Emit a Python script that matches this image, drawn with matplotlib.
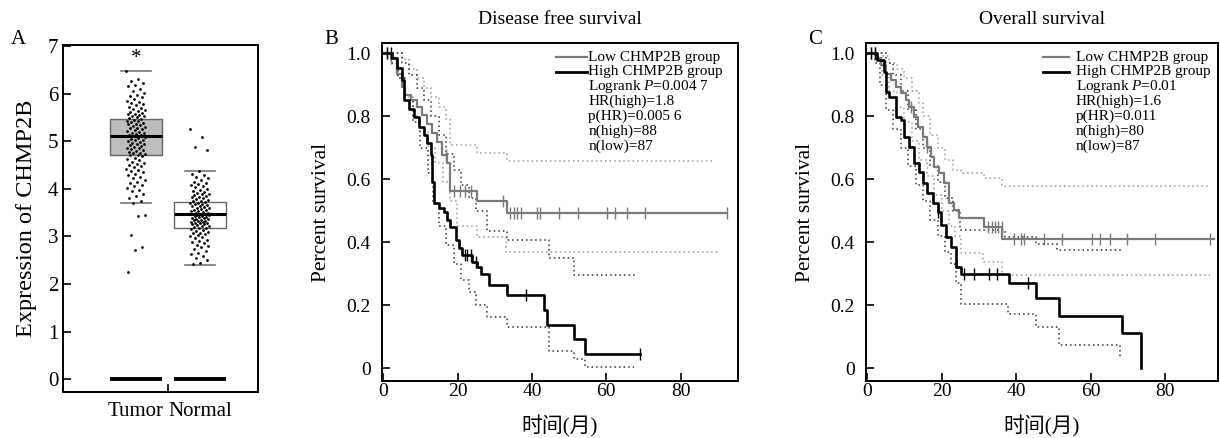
import numpy as np
import matplotlib
matplotlib.use("Agg")
import matplotlib.pyplot as plt
from matplotlib.ticker import FuncFormatter

plt.rcParams['font.family'] = ['Liberation Serif', 'Noto Sans CJK SC']
plt.rcParams['mathtext.fontset'] = 'custom'
plt.rcParams['mathtext.rm'] = 'Liberation Serif'
plt.rcParams['mathtext.it'] = 'Liberation Serif:italic'

# ---------------- panel A: expression box plot ----------------
groups = ['Tumor', 'Normal']
tumor_expr = [6.48, 6.31, 6.27, 6.22, 6.18, 6.15, 6.10, 6.05, 6.02, 5.98, 5.95, 5.92, 5.88, 5.85,
              5.82, 5.80, 5.78, 5.75, 5.72, 5.70, 5.68, 5.66, 5.64, 5.62, 5.60, 5.58, 5.56, 5.55,
              5.53, 5.52, 5.50, 5.48, 5.46, 5.45, 5.43, 5.42, 5.40, 5.38, 5.37, 5.35, 5.33, 5.32,
              5.30, 5.28, 5.27, 5.25, 5.23, 5.22, 5.20, 5.18, 5.17, 5.15, 5.13, 5.12, 5.10, 5.08,
              5.07, 5.05, 5.03, 5.02, 5.00, 4.98, 4.96, 4.95, 4.93, 4.91, 4.90, 4.88, 4.86, 4.85,
              4.83, 4.81, 4.80, 4.78, 4.76, 4.75, 4.73, 4.71, 4.70, 4.68, 4.65, 4.62, 4.60, 4.57,
              4.55, 4.52, 4.50, 4.47, 4.45, 4.42, 4.40, 4.37, 4.35, 4.32, 4.28, 4.25, 4.22, 4.18,
              4.15, 4.12, 4.08, 4.05, 4.02, 3.98, 3.95, 3.90, 3.85, 3.80, 3.75, 3.70, 3.45, 3.42,
              3.02, 2.78, 2.72, 2.25]
normal_expr = [5.25, 5.08, 4.88, 4.82, 4.38, 4.32, 4.28, 4.25, 4.22, 4.18, 4.15, 4.12, 4.10, 4.08,
               4.05, 4.03, 4.00, 3.98, 3.96, 3.94, 3.92, 3.90, 3.88, 3.86, 3.85, 3.83, 3.82, 3.80,
               3.78, 3.77, 3.75, 3.74, 3.72, 3.71, 3.70, 3.68, 3.67, 3.66, 3.64, 3.63, 3.62, 3.60,
               3.59, 3.58, 3.56, 3.55, 3.54, 3.53, 3.52, 3.50, 3.49, 3.48, 3.47, 3.46, 3.45, 3.44,
               3.43, 3.42, 3.41, 3.40, 3.39, 3.38, 3.37, 3.36, 3.35, 3.34, 3.33, 3.32, 3.31, 3.30,
               3.29, 3.28, 3.27, 3.26, 3.25, 3.24, 3.22, 3.21, 3.20, 3.18, 3.17, 3.15, 3.13, 3.12,
               3.10, 3.08, 3.06, 3.04, 3.02, 3.00, 2.98, 2.96, 2.93, 2.90, 2.88, 2.85, 2.82, 2.80,
               2.77, 2.74, 2.70, 2.66, 2.62, 2.58, 2.55, 2.50, 2.45, 2.42]
box_q1 = [4.70, 3.18]
box_med = [5.10, 3.46]
box_q3 = [5.47, 3.72]
whisk_lo = [3.70, 2.40]
whisk_hi = [6.48, 4.38]

# ---------------- panel B: disease free survival ----------------
b_low_t = [0, 2.0, 3.8, 5.2, 6.0, 7.4, 9.2, 10.5, 11.9, 13.2, 14.5, 15.9, 17.2, 18.1, 25.3, 33.2, 92.4]
b_low_s = [1.0, 0.983, 0.935, 0.893, 0.867, 0.851, 0.829, 0.803, 0.776, 0.745, 0.718, 0.676, 0.650,
           0.562, 0.530, 0.493, 0.493]
b_low_cens = [1.0, 2.0, 16.8, 19.0, 20.8, 22.1, 23.5, 32.3, 34.2, 35.1, 36.0, 37.1, 41.4, 42.3, 47.2,
              52.3, 60.3, 62.4, 65.5, 70.5, 92.4]
b_high_t = [0, 2.5, 3.8, 5.2, 5.6, 6.9, 8.3, 9.6, 11.0, 11.9, 12.8, 13.2, 13.6, 15.0, 16.3, 17.2, 18.1,
            19.5, 20.4, 21.3, 23.9, 25.3, 26.2, 28.4, 33.2, 43.2, 44.1, 51.2, 54.4, 69.0]
b_high_s = [1.0, 0.983, 0.952, 0.914, 0.851, 0.824, 0.798, 0.766, 0.740, 0.713, 0.676, 0.591, 0.523,
            0.507, 0.496, 0.470, 0.449, 0.406, 0.380, 0.359, 0.338, 0.322, 0.300, 0.263, 0.232, 0.184,
            0.136, 0.091, 0.044, 0.044]
b_high_cens = [1.0, 2.0, 21.9, 22.5, 23.5, 25.1, 38.3, 69.0]
b_low_hi_t = [0, 3, 5, 7, 9, 11, 13, 15, 17, 18.1, 25.3, 33.2, 88.8]
b_low_hi_s = [1.0, 1.0, 0.98, 0.95, 0.92, 0.89, 0.86, 0.83, 0.79, 0.708, 0.683, 0.658, 0.658]
b_low_lo_t = [0, 2, 4, 6, 8, 10, 12, 14, 16, 18, 19.9, 25.3, 33.0, 90.6]
b_low_lo_s = [1.0, 0.97, 0.92, 0.86, 0.80, 0.75, 0.70, 0.65, 0.59, 0.53, 0.451, 0.415, 0.369, 0.369]
b_high_hi_t = [0, 3, 5, 7, 9, 11, 13, 15, 17, 19, 21, 23, 25, 28, 33.2, 44.7, 51.2, 68.3]
b_high_hi_s = [1.0, 1.0, 0.97, 0.93, 0.89, 0.85, 0.80, 0.74, 0.68, 0.63, 0.58, 0.54, 0.50, 0.436,
               0.406, 0.349, 0.295, 0.295]
b_high_lo_t = [0, 2, 4, 6, 8, 10, 12, 13.5, 15, 17, 19, 21, 23, 25, 28, 33.2, 44.7, 51.2, 54.4, 67.4]
b_high_lo_s = [1.0, 0.97, 0.92, 0.85, 0.78, 0.70, 0.62, 0.52, 0.45, 0.39, 0.33, 0.28, 0.24, 0.20,
               0.161, 0.131, 0.055, 0.030, 0.004, 0.004]
b_stats = ['Logrank $P$=0.004 7', 'HR(high)=1.8', 'p(HR)=0.005 6', 'n(high)=88', 'n(low)=87']

# ---------------- panel C: overall survival ----------------
c_low_t = [0, 2.4, 3.75, 5.1, 6.4, 7.8, 9.1, 10.4, 11.3, 12.7, 13.6, 14.9, 16.2, 17.1, 18.0, 19.4,
           20.7, 22.0, 23.4, 24.7, 31.4, 36.3, 93.0]
c_low_s = [1.0, 0.983, 0.962, 0.935, 0.914, 0.893, 0.872, 0.851, 0.829, 0.798, 0.766, 0.734, 0.703,
           0.671, 0.639, 0.618, 0.586, 0.523, 0.501, 0.475, 0.449, 0.410, 0.410]
c_low_cens = [1.0, 2.0, 11.8, 16.2, 32.5, 33.4, 34.3, 35.2, 36.1, 39.3, 41.4, 42.1, 47.5, 52.4, 60.4,
              62.6, 65.1, 69.9, 77.4, 92.1]
c_high_t = [0, 2.7, 4.6, 5.1, 6.0, 7.8, 9.1, 10.0, 11.3, 12.7, 14.0, 14.9, 16.2, 17.6, 18.9, 19.8,
            21.1, 22.5, 23.8, 25.2, 38.1, 45.3, 51.5, 68.3, 73.4]
c_high_s = [1.0, 0.977, 0.941, 0.877, 0.861, 0.798, 0.787, 0.734, 0.703, 0.650, 0.623, 0.586, 0.555,
            0.523, 0.496, 0.454, 0.417, 0.385, 0.322, 0.300, 0.269, 0.223, 0.166, 0.110, 0.0]
c_high_cens = [1.0, 2.0, 19.1, 26.1, 28.7, 32.7, 35.0, 43.2]
c_low_hi_t = [0, 2, 4, 6, 8, 10, 12, 14, 15, 17, 19, 21, 23, 25.2, 31.4, 36.3, 92.1]
c_low_hi_s = [1.0, 1.0, 0.99, 0.97, 0.95, 0.92, 0.88, 0.84, 0.80, 0.74, 0.70, 0.66, 0.63, 0.618,
              0.602, 0.579, 0.579]
c_low_lo_t = [0, 2, 4, 6, 8, 10, 12, 14, 16, 18, 20, 22, 23.5, 25.3, 31.1, 36.3, 92.4]
c_low_lo_s = [1.0, 0.98, 0.93, 0.88, 0.83, 0.78, 0.72, 0.66, 0.61, 0.55, 0.50, 0.45, 0.42, 0.364,
              0.337, 0.295, 0.295]
c_high_hi_t = [0, 3, 5, 7, 9, 11, 13, 15, 17, 19, 21, 23, 25, 37, 45.3, 51.0, 68.3]
c_high_hi_s = [1.0, 1.0, 0.97, 0.93, 0.88, 0.82, 0.76, 0.70, 0.64, 0.59, 0.54, 0.50, 0.438, 0.417,
               0.394, 0.375, 0.375]
c_high_lo_t = [0, 2, 3.5, 5, 7, 9, 11, 13, 15, 17, 19, 21, 22.5, 23.8, 25.2, 37.7, 45.3, 51.5, 68.0]
c_high_lo_s = [1.0, 0.97, 0.90, 0.82, 0.76, 0.70, 0.64, 0.58, 0.53, 0.47, 0.42, 0.37, 0.33, 0.27,
               0.205, 0.173, 0.131, 0.073, 0.036]
c_stats = ['Logrank $P$=0.01', 'HR(high)=1.6', 'p(HR)=0.011', 'n(high)=80', 'n(low)=87']

LOW_COL = '#7a7a7a'
HIGH_COL = '#000000'


def step_value(t, s, x):
    idx = np.searchsorted(t, x, side='right') - 1
    return np.asarray(s)[np.clip(idx, 0, len(s) - 1)]


def km_panel(ax, low, high, low_ci, high_ci, low_cens, high_cens, xmax):
    for (t, s) in low_ci:
        ax.step(t, s, where='post', color='#9a9a9a', lw=1.1, ls=(0, (1, 2)))
    for (t, s) in high_ci:
        ax.step(t, s, where='post', color='#333333', lw=1.1, ls=(0, (1, 2)))
    ax.step(low[0], low[1], where='post', color=LOW_COL, lw=1.6)
    ax.step(high[0], high[1], where='post', color=HIGH_COL, lw=1.9)
    ax.plot(low_cens, step_value(low[0], low[1], low_cens), ls='none', marker='|',
            ms=9, mew=1.0, color=LOW_COL)
    ax.plot(high_cens, step_value(high[0], high[1], high_cens), ls='none', marker='|',
            ms=9, mew=1.0, color=HIGH_COL)

    ax.set_xlim(-0.3, xmax)
    ax.set_ylim(-0.041, 1.032)
    ax.set_xticks([0, 20, 40, 60, 80])
    ax.set_yticks([0, 0.2, 0.4, 0.6, 0.8, 1.0])
    ax.yaxis.set_major_formatter(FuncFormatter(lambda v, p: '0' if v == 0 else '%.1f' % v))
    ax.tick_params(direction='in', length=6, width=1.2, labelsize=14)
    ax.tick_params(axis='y', pad=8)
    ax.tick_params(axis='x', pad=1.5)
    for sp in ax.spines.values():
        sp.set_linewidth(1.4)
    ax.set_xlabel('时间(月)', fontsize=15, labelpad=11)
    ax.set_ylabel('Percent survival', fontsize=15.5, labelpad=11)
    return ax


fig = plt.figure(figsize=(12.2, 4.38), dpi=100)

# ---- A ----
axA = fig.add_axes([63 / 1220, 46 / 438, 195 / 1220, 347 / 438])
pos = np.arange(len(groups))
stats = []
for i in range(len(groups)):
    stats.append(dict(med=box_med[i], q1=box_q1[i], q3=box_q3[i],
                      whislo=whisk_lo[i], whishi=whisk_hi[i], fliers=[]))
bp = axA.bxp(stats, positions=pos, widths=0.81, patch_artist=True, capwidths=0.47,
             medianprops=dict(color='black', lw=2.2),
             whiskerprops=dict(lw=0),
             capprops=dict(color='#777777', lw=1.2),
             boxprops=dict(edgecolor='#666666', lw=1.0))
bp['boxes'][0].set_facecolor('#bdbdbd')
bp['boxes'][1].set_facecolor('white')
for i, vals in enumerate([tumor_expr, normal_expr]):
    n = len(vals)
    jit = ((np.arange(n) * 0.6180339) % 1.0 - 0.5) * 0.3
    axA.scatter(pos[i] + jit, vals, s=4, color='black', zorder=3, linewidths=0)
    axA.hlines(0, pos[i] - 0.405, pos[i] + 0.405, color='black', lw=2.8, zorder=3)
axA.text(pos[0], whisk_hi[0] + 0.25, '*', ha='center', va='center', fontsize=15)
axA.set_xlim(-1.14, 1.91)
axA.set_ylim(-0.27, 7.02)
axA.set_yticks(range(0, 8))
axA.set_xticks(pos)
axA.set_xticklabels(groups, fontsize=15)
axA.set_xticks([0.5], minor=True)
axA.tick_params(axis='x', which='major', length=0, pad=7)
axA.tick_params(axis='x', which='minor', direction='in', length=6, width=1.2)
axA.tick_params(axis='y', direction='in', length=6, width=1.2, labelsize=15)
for sp in axA.spines.values():
    sp.set_linewidth(1.4)
axA.set_ylabel('Expression of CHMP2B', fontsize=17.5, labelpad=8)

# ---- B ----
axB = fig.add_axes([382 / 1220, 57 / 438, 356 / 1220, 338 / 438])
km_panel(axB, (b_low_t, b_low_s), (b_high_t, b_high_s),
         [(b_low_hi_t, b_low_hi_s), (b_low_lo_t, b_low_lo_s)],
         [(b_high_hi_t, b_high_hi_s), (b_high_lo_t, b_high_lo_s)],
         b_low_cens, b_high_cens, 95.4)
axB.set_title('Disease free survival', fontsize=14, pad=14)

# ---- C ----
axC = fig.add_axes([866 / 1220, 57 / 438, 352 / 1220, 338 / 438])
km_panel(axC, (c_low_t, c_low_s), (c_high_t, c_high_s),
         [(c_low_hi_t, c_low_hi_s), (c_low_lo_t, c_low_lo_s)],
         [(c_high_hi_t, c_high_hi_s), (c_high_lo_t, c_high_lo_s)],
         c_low_cens, c_high_cens, 94.2)
axC.set_title('Overall survival', fontsize=14, pad=14)

# legends (manual, tight line spacing as in the figure)
for ax, x_line, x_txt, st in [(axB, (0.49, 0.575), 0.579, b_stats),
                              (axC, (0.502, 0.577), 0.596, c_stats)]:
    rows = ['Low CHMP2B group', 'High CHMP2B group'] + st
    for k, txt in enumerate(rows):
        yy = 1 - (14 + 14.8 * k) / 338
        ax.text(x_txt, yy, txt, transform=ax.transAxes, fontsize=11, va='center', ha='left')
        if k < 2:
            ax.plot(x_line, [yy, yy], transform=ax.transAxes,
                    color=LOW_COL if k == 0 else HIGH_COL, lw=1.6 if k == 0 else 2.0)

fig.text(18 / 1220, 1 - 40 / 438, 'A', fontsize=15, ha='center', va='center')
fig.text(331 / 1220, 1 - 40 / 438, 'B', fontsize=15, ha='center', va='center')
fig.text(815 / 1220, 1 - 40 / 438, 'C', fontsize=15, ha='center', va='center')

fig.savefig('out.png', dpi=100)
